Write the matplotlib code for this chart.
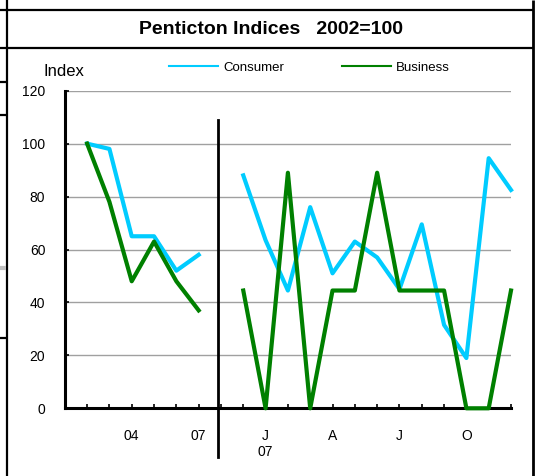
"""Penticton consumer and business indices (2002=100), annual then monthly."""

import numpy as np
import matplotlib
matplotlib.use("Agg")
import matplotlib.pyplot as plt
from matplotlib.lines import Line2D

plt.rcParams['font.family'] = ['Liberation Sans', 'DejaVu Sans']

# Annual section (2002-2007)
annual_labels = ['02', '03', '04', '05', '06', '07']
annual_consumer = [100, 98, 65, 65, 52, 58]
annual_business = [100, 78, 48, 63, 48, 37]

# Monthly section (Dec 2006 - Dec 2007)
month_labels = ['D', 'J', 'F', 'M', 'A', 'M', 'J', 'J', 'A', 'S', 'O', 'N', 'D']
monthly_consumer = [88, 63.5, 44.5, 76, 51, 63, 57, 45, 69.5, 31.5, 19, 94.5, 82.5]
monthly_business = [44.5, 0, 89, 0, 44.5, 44.5, 89, 44.5, 44.5, 44.5, 0, 0, 44.5]

shown_years = ['04', '07']
shown_months = {1: 'J\n07', 4: 'A', 7: 'J', 10: 'O'}

CONSUMER = '#00CCFF'
BUSINESS = '#008000'
W, H = 535, 476


def px_line(fig, x0, y0, x1, y1, color='black', lw=1.5):
    """Draw a line in figure pixel coordinates (origin top-left)."""
    fig.add_artist(Line2D([x0 / W, x1 / W], [1 - y0 / H, 1 - y1 / H],
                          transform=fig.transFigure, color=color, lw=lw,
                          solid_capstyle='butt'))


fig = plt.figure(figsize=(W / 100, H / 100), dpi=100)
ax = fig.add_axes([64.8 / W, 1 - 408.3 / H, (511 - 64.8) / W, (408.3 - 90.7) / H])

x_annual = np.arange(1, len(annual_labels) + 1)
x_month = np.arange(len(annual_labels) + 2, len(annual_labels) + 2 + len(month_labels))

for xs, cons, bus in [(x_annual, annual_consumer, annual_business),
                      (x_month, monthly_consumer, monthly_business)]:
    ax.plot(xs, cons, color=CONSUMER, lw=3, zorder=3, clip_on=False,
            solid_joinstyle='round')
    ax.plot(xs, bus, color=BUSINESS, lw=3, zorder=3, clip_on=False,
            solid_joinstyle='round')

# divider between the annual and monthly parts
ax.plot([6.87, 6.87], [109, -18.5], color='black', lw=2, clip_on=False, zorder=3)

ax.set_xlim(0, x_month[-1])
ax.set_ylim(0, 120)
ax.set_yticks(range(0, 121, 20))
ax.yaxis.grid(True, color='#a0a0a0', lw=1)
ax.set_axisbelow(True)

ticks = np.arange(0, x_month[-1] + 1)
tick_labels = [''] * len(ticks)
for x, lab in zip(x_annual, annual_labels):
    if lab in shown_years:
        tick_labels[x] = lab
for i, x in enumerate(x_month):
    if i in shown_months:
        tick_labels[x] = shown_months[i]
ax.set_xticks(ticks)
ax.set_xticklabels(tick_labels)

for side in ['top', 'right']:
    ax.spines[side].set_visible(False)
for side in ['left', 'bottom']:
    ax.spines[side].set_linewidth(2.2)
    ax.spines[side].set_zorder(2.5)
ax.tick_params(axis='x', direction='in', length=3, width=1.2, pad=15, labelsize=10)
ax.tick_params(axis='y', direction='in', length=3, width=1.2, pad=14, labelsize=10)

# title and labels
fig.text(271 / W, 1 - 29 / H, 'Penticton Indices   2002=100', fontsize=14,
         fontweight='bold', ha='center', va='center')
fig.text(43.7 / W, 1 - 71.7 / H, 'Index', fontsize=12, ha='left', va='center')

handles = [Line2D([], [], color=CONSUMER, lw=1.5), Line2D([], [], color=BUSINESS, lw=1.5)]
ax.legend(handles, ['Consumer', 'Business'], ncol=2, frameon=False, fontsize=9.5,
          loc='center left', bbox_to_anchor=(169 / W, 1 - 68 / H),
          bbox_transform=fig.transFigure, handlelength=3.7, handletextpad=0.4,
          columnspacing=4.4, borderpad=0, borderaxespad=0)

# surrounding page frame
px_line(fig, 7, 0, 7, H, lw=1.6)
px_line(fig, 533, 0, 533, H, lw=2)
px_line(fig, 0, 10, 533, 10, lw=1.6)
px_line(fig, 0, 48, 533, 48, lw=1.6)
for y in [82, 115, 338]:
    px_line(fig, 0, y, 7, y, lw=1.6)
px_line(fig, 0, 268, 6, 268, color='#c0c0c0', lw=3)

plt.savefig('out.png', dpi=100)
